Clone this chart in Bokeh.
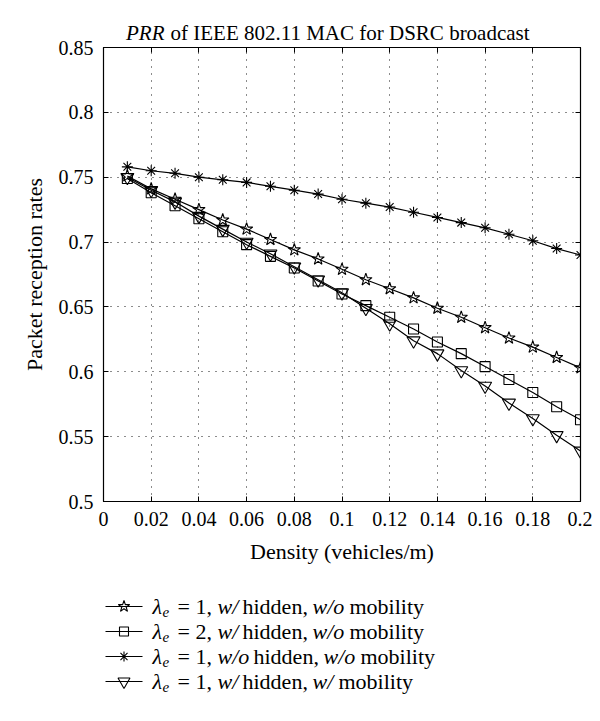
from bokeh.plotting import figure
from bokeh.models import Range1d, LinearAxis, FixedTicker, CustomJSTickFormatter
from bokeh.layouts import column
from bokeh.embed import file_html
from bokeh.resources import INLINE
from bokeh.core.properties import value

# ---------------- data ----------------
density = [0.01, 0.02, 0.03, 0.04, 0.05, 0.06, 0.07, 0.08, 0.09, 0.10,
           0.11, 0.12, 0.13, 0.14, 0.15, 0.16, 0.17, 0.18, 0.19, 0.20]

prr_l1_hidden_nomob = [0.751, 0.741, 0.733, 0.725, 0.717, 0.710, 0.702, 0.694, 0.687, 0.679,
                       0.671, 0.664, 0.657, 0.649, 0.642, 0.634, 0.626, 0.619, 0.611, 0.603]
prr_l2_hidden_nomob = [0.749, 0.738, 0.728, 0.718, 0.708, 0.698, 0.689, 0.680, 0.670, 0.660,
                       0.651, 0.642, 0.633, 0.623, 0.614, 0.604, 0.594, 0.584, 0.573, 0.563]
prr_l1_nohidden_nomob = [0.758, 0.755, 0.753, 0.750, 0.748, 0.746, 0.743, 0.740, 0.737, 0.733,
                         0.730, 0.727, 0.723, 0.719, 0.715, 0.711, 0.706, 0.701, 0.695, 0.690]
prr_l1_hidden_mob = [0.750, 0.740, 0.731, 0.720, 0.710, 0.700, 0.691, 0.681, 0.671, 0.661,
                     0.649, 0.637, 0.624, 0.614, 0.601, 0.589, 0.576, 0.564, 0.551, 0.539]

x_ticks = [0, 0.02, 0.04, 0.06, 0.08, 0.1, 0.12, 0.14, 0.16, 0.18, 0.2]
x_tick_labels = ["0", "0.02", "0.04", "0.06", "0.08", "0.1", "0.12", "0.14", "0.16", "0.18", "0.2"]
y_ticks = [0.5, 0.55, 0.6, 0.65, 0.7, 0.75, 0.8, 0.85]
y_tick_labels = ["0.5", "0.55", "0.6", "0.65", "0.7", "0.75", "0.8", "0.85"]

title_italic = "PRR"
title_rest = "of IEEE 802.11 MAC for DSRC broadcast"
x_label = "Density (vehicles/m)"
y_label = "Packet reception rates"

# legend text pieces: (text, italic?, x position in px)
legend_rows = [
    [("= 1,", False, 177), ("w/", True, 217), ("hidden,", False, 242), ("w/o", True, 312), ("mobility", False, 349)],
    [("= 2,", False, 177), ("w/", True, 217), ("hidden,", False, 242), ("w/o", True, 312), ("mobility", False, 349)],
    [("= 1,", False, 177), ("w/o", True, 217), ("hidden,", False, 253), ("w/o", True, 323), ("mobility", False, 360)],
    [("= 1,", False, 177), ("w/", True, 217), ("hidden,", False, 242), ("w/", True, 312), ("mobility", False, 338)],
]

SERIF = "'Liberation Serif', 'Times New Roman', serif"
W = 592
LEFT = 103     # frame left (px)
RIGHT = 12     # space right of frame (px)
TH = 47        # title strip height
OVER = 12      # main plot overlaps the title strip by this much
LH = 130       # legend strip height
MH = 705 - TH - LH + OVER

# ---------------- title strip ----------------
tf = figure(width=W, height=TH, x_range=Range1d(LEFT, W - RIGHT), y_range=Range1d(TH, 0),
            output_backend="svg", toolbar_location=None,
            min_border_left=LEFT, min_border_right=RIGHT, min_border_top=0, min_border_bottom=0,
            x_axis_type=None, y_axis_type=None)
tf.outline_line_color = None
tf.text(x=[164], y=[32], text=[title_italic], text_font=value(SERIF), text_font_size="21px",
        text_font_style="italic", text_align="right", text_baseline="middle", text_color="black")
tf.text(x=[170], y=[32], text=[title_rest], text_font=value(SERIF), text_font_size="21px",
        text_font_style="normal", text_align="left", text_baseline="middle", text_color="black")

# ---------------- main plot ----------------
p = figure(width=W, height=MH, x_range=Range1d(0, 0.2), y_range=Range1d(0.5, 0.85),
           output_backend="svg", toolbar_location=None,
           min_border_left=LEFT, min_border_right=RIGHT, min_border_top=OVER,
           min_border_bottom=(705 - LH) - 501, margin=(-OVER, 0, 0, 0))
p.outline_line_color = "black"
p.outline_line_width = 1.2
p.background_fill_color = "white"
p.border_fill_color = None

xt = FixedTicker(ticks=x_ticks)
yt = FixedTicker(ticks=y_ticks)


def style_axis(ax, ticker, ticks, labels, show):
    ax.ticker = ticker
    ax.major_tick_in = 5
    ax.major_tick_out = 0
    ax.minor_tick_line_color = None
    ax.major_tick_line_color = "black"
    ax.major_tick_line_width = 1
    ax.axis_line_color = "black"
    ax.major_label_text_font = SERIF
    ax.major_label_text_color = "black"
    ax.major_label_text_font_size = "20px"
    if show:
        ax.major_label_overrides = dict(zip(ticks, labels))
    else:
        ax.formatter = CustomJSTickFormatter(code="return ''")
        ax.major_label_standoff = 0


xa = p.below[0]
ya = p.left[0]
style_axis(xa, xt, x_ticks, x_tick_labels, True)
style_axis(ya, yt, y_ticks, y_tick_labels, True)
xa.major_label_standoff = 10
ya.major_label_standoff = 10
xa.axis_label = x_label
ya.axis_label = y_label
for ax in (xa, ya):
    ax.axis_label_text_font = SERIF
    ax.axis_label_text_font_size = "22px"
    ax.axis_label_text_font_style = "normal"
    ax.axis_label_text_color = "black"
xa.axis_label_standoff = 10
ya.axis_label_standoff = 9

ra = LinearAxis()
style_axis(ra, yt, y_ticks, y_tick_labels, False)
p.add_layout(ra, "right")
ta = LinearAxis()
style_axis(ta, xt, x_ticks, x_tick_labels, False)
p.add_layout(ta, "above")

for g, t in ((p.xgrid[0], xt), (p.ygrid[0], yt)):
    g.ticker = t
    g.grid_line_color = "black"
    g.grid_line_dash = "1 6"
    g.grid_line_width = 1
    g.grid_line_alpha = 0.9

series = [
    (prr_l1_hidden_nomob, "star", 13),
    (prr_l2_hidden_nomob, "square", 10),
    (prr_l1_nohidden_nomob, "asterisk", 11),
    (prr_l1_hidden_mob, "inverted_triangle", 13),
]
for vals, mk, sz in series:
    p.line(density, vals, line_color="black", line_width=1.2)
    p.scatter(density, vals, marker=mk, size=sz, line_color="black",
              fill_color=None, line_width=1.1)

# ---------------- legend strip ----------------
lf = figure(width=W, height=LH, x_range=Range1d(LEFT, W - RIGHT), y_range=Range1d(LH, 0),
            output_backend="svg", toolbar_location=None,
            min_border_left=LEFT, min_border_right=RIGHT, min_border_top=0, min_border_bottom=0,
            x_axis_type=None, y_axis_type=None)
lf.outline_line_color = None
for i, (vals, mk, sz) in enumerate(series):
    y = 31 + 25 * i
    lf.line([105, 142], [y, y], line_color="black", line_width=1.2)
    lf.scatter([123.5], [y], marker=mk, size=sz - 1, line_color="black",
               fill_color=None, line_width=1.1)
    lf.text(x=[152], y=[y], text=["λ"], text_font=value(SERIF), text_font_size="22px",
            text_font_style="italic", text_align="left", text_baseline="middle", text_color="black")
    lf.text(x=[162], y=[y + 5], text=["e"], text_font=value(SERIF), text_font_size="15px",
            text_font_style="italic", text_align="left", text_baseline="middle", text_color="black")
    for txt, it, x in legend_rows[i]:
        lf.text(x=[x], y=[y], text=[txt], text_font=value(SERIF), text_font_size="22px",
                text_font_style="italic" if it else "normal", text_align="left",
                text_baseline="middle", text_color="black")

layout = column(tf, p, lf, spacing=0)
open("out.html", "w").write(file_html(layout, INLINE))
